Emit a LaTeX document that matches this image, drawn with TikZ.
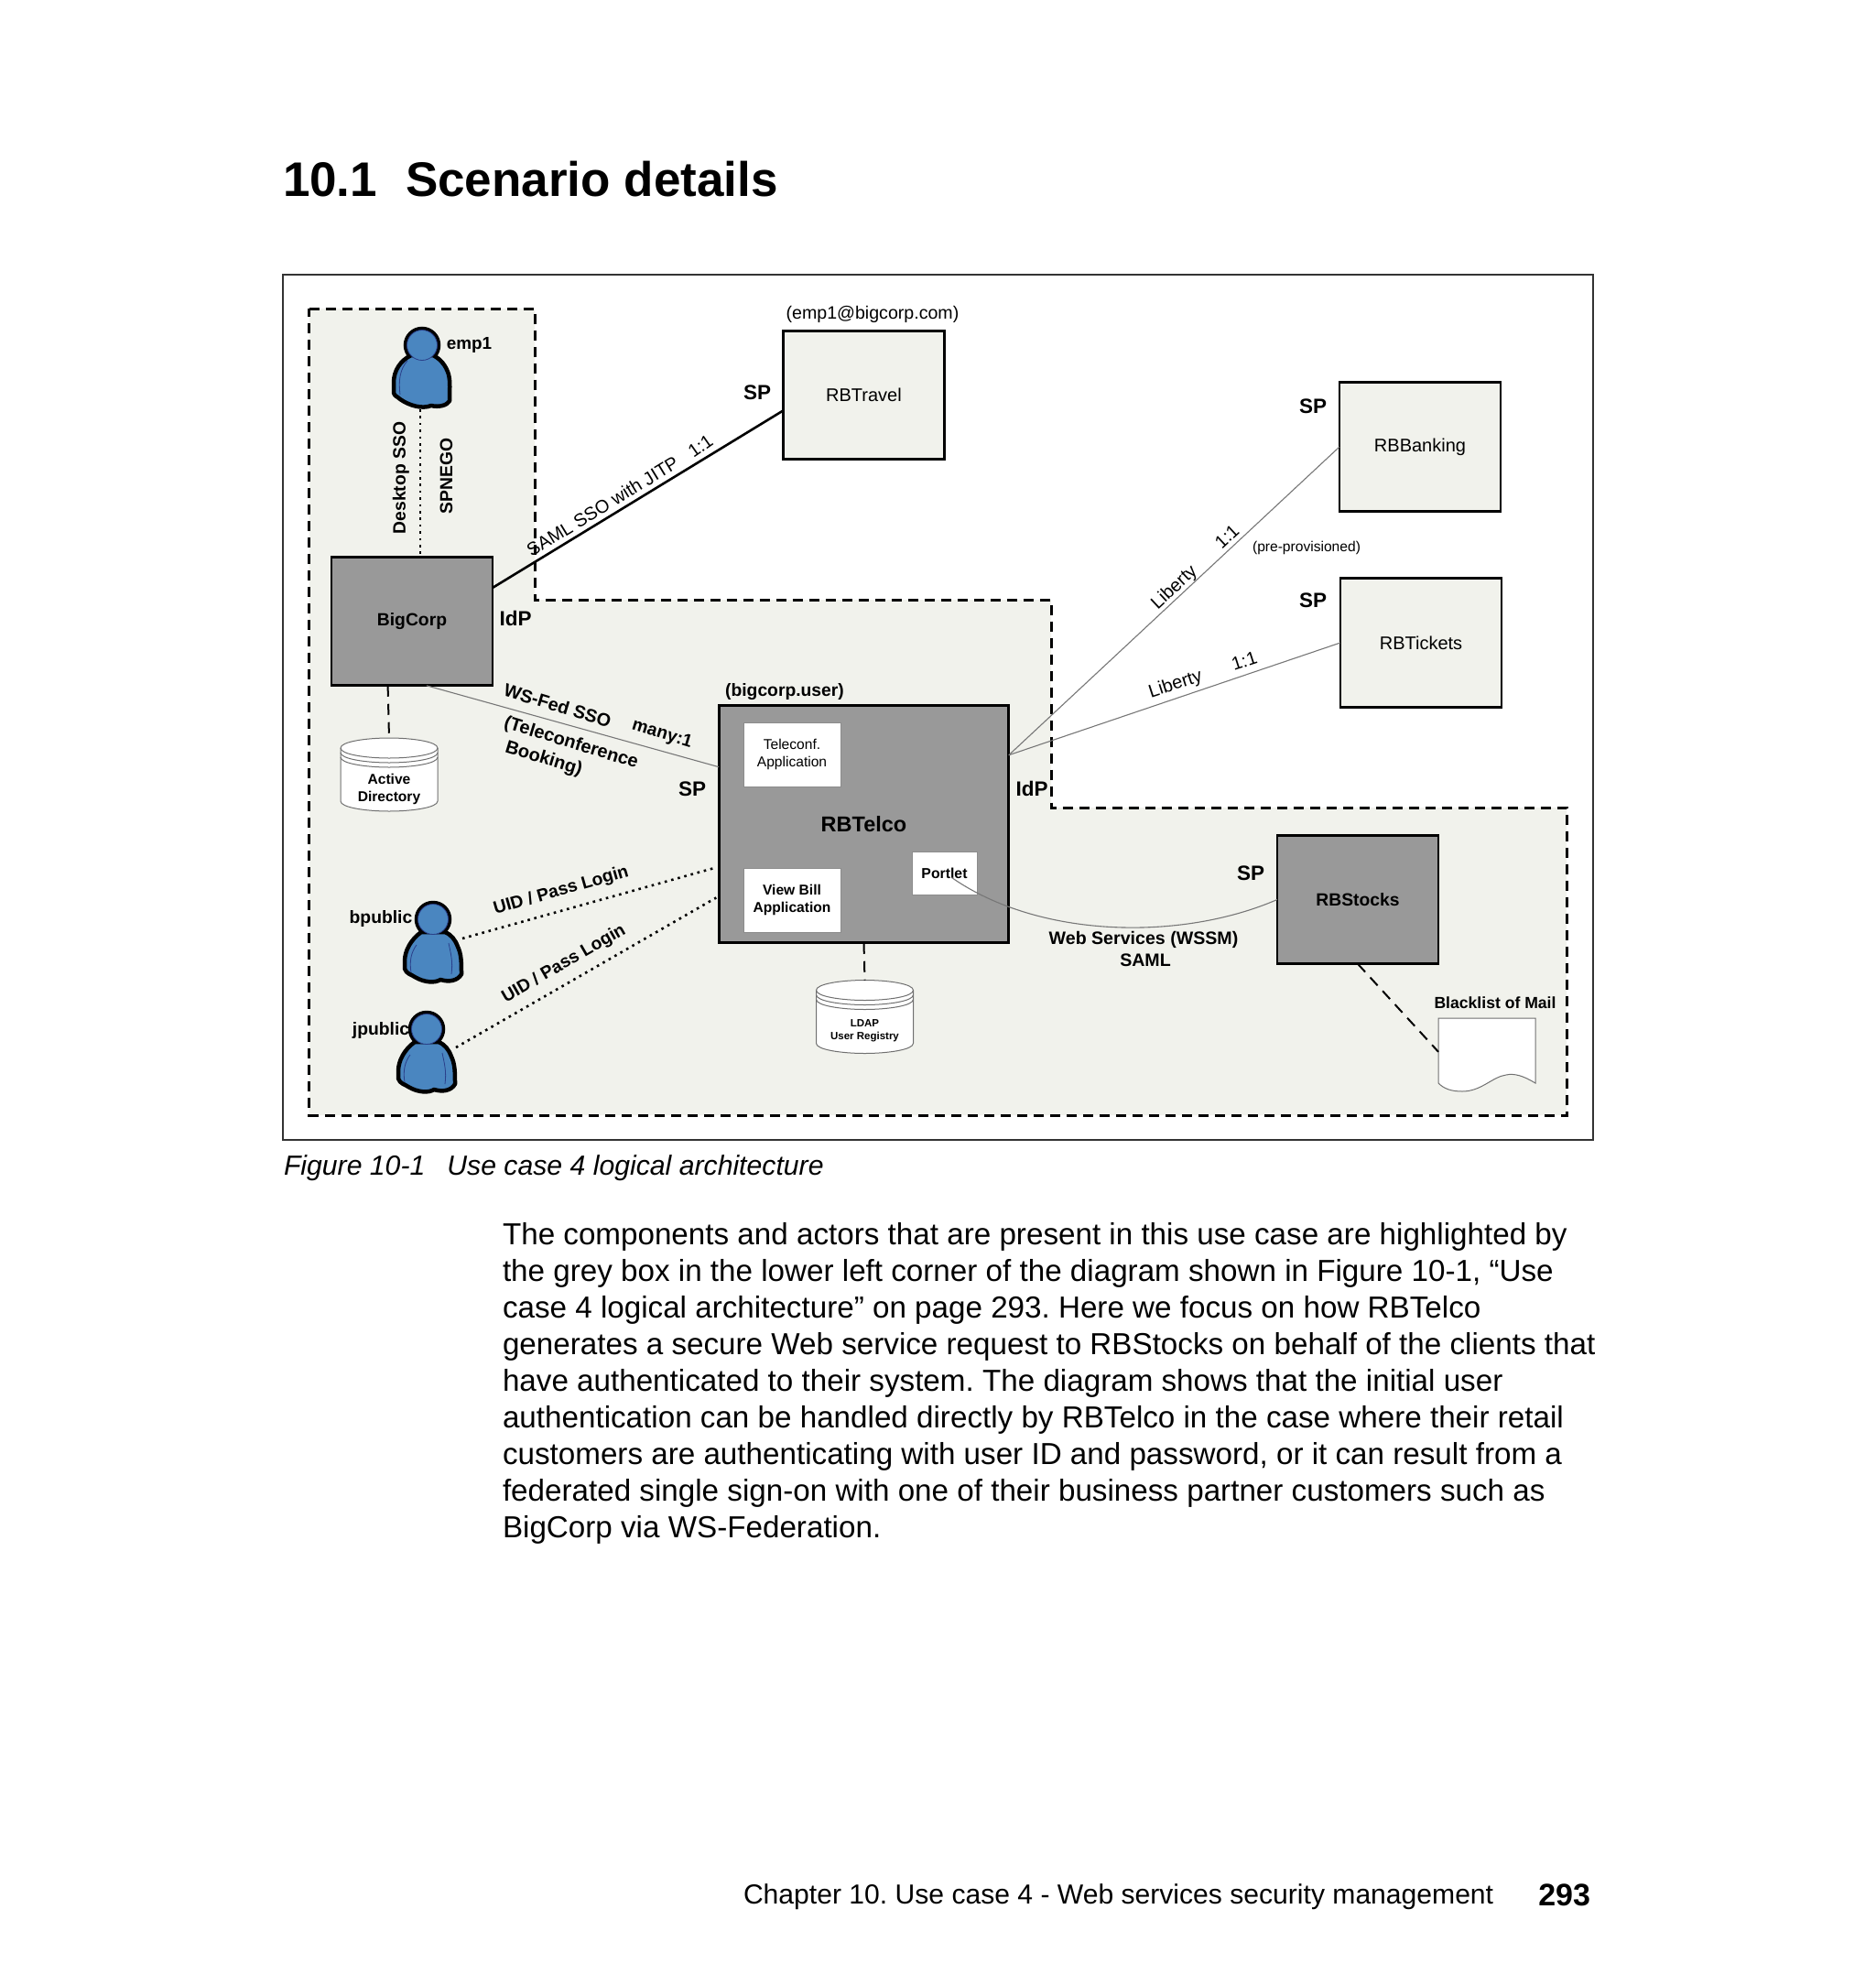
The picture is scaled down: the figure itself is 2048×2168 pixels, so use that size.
\documentclass[tikz,border=0pt]{standalone}
\usepackage{fontspec}
\setmainfont{Liberation Sans}
\usetikzlibrary{calc}
\frenchspacing
\definecolor{region}{HTML}{F1F2EC}
\definecolor{boxgrey}{HTML}{999999}
\definecolor{personblue}{HTML}{4A86C0}
\definecolor{personline}{HTML}{2A3F8A}
\definecolor{thinline}{HTML}{777777}
\definecolor{cylline}{HTML}{707070}
\tikzset{
  lab/.style={inner sep=0pt,outer sep=0pt,align=center,font=\bfseries\fontsize{19.3}{23}\selectfont},
  reglab/.style={inner sep=0pt,outer sep=0pt,align=center,font=\fontsize{20}{24}\selectfont},
  role/.style={inner sep=0pt,outer sep=0pt,font=\bfseries\fontsize{22.5}{26}\selectfont},
  minilab/.style={inner sep=0pt,outer sep=0pt,align=center,font=\bfseries\fontsize{15.6}{19.2}\selectfont},
  greybox/.style={draw=black,line width=2.6pt,fill=boxgrey,inner sep=0pt,outer sep=0pt,align=center},
  spbox/.style={draw=black,line width=2.6pt,fill=region,inner sep=0pt,outer sep=0pt,align=center},
  whitebox/.style={draw=black!45,line width=1pt,fill=white,inner sep=0pt,outer sep=0pt,align=center},
  ghost/.style={inner sep=0pt,outer sep=0pt},
  regionline/.style={draw=black,fill=region,line width=3pt,dash pattern=on 11pt off 7pt},
  thinlink/.style={draw=thinline,line width=1.1pt},
  dashlink/.style={draw=black,line width=2pt,dash pattern=on 12pt off 8pt},
  dotlink/.style={draw=black,line width=2.6pt,dash pattern=on 2.6pt off 4.8pt},
  pagetext/.style={inner sep=0pt,outer sep=0pt,anchor=west},
  personA/.pic={
    \draw[black,line width=4.5pt,fill=personblue] (0,0) circle (18);
    \draw[black,line width=4.5pt,fill=personblue,line join=round]
      (-12,11) .. controls (-24,17) and (-31,28) .. (-31,41)
      -- (-31,52) .. controls (-30,56) and (-27,56) .. (-24,59)
      .. controls (-14,66) and (0,70) .. (10,66)
      .. controls (18,68) and (27,66) .. (30,61)
      .. controls (30,50) and (31,40) .. (29,32)
      .. controls (26,22) and (20,15) .. (12,11) -- cycle;
    \draw[personline,line width=.8pt,fill=personblue] (0,0) circle (16.5);
    \draw[personline,line width=.8pt] (-16,17) .. controls (-24,26) and (-26,38) .. (-24,54);
  },
  personB/.pic={
    \draw[black,line width=4.5pt,fill=personblue] (0,0) circle (18);
    \draw[black,line width=4.5pt,fill=personblue,line join=round]
      (-13,14) .. controls (-24,22) and (-31,34) .. (-31,46)
      -- (-31,54) .. controls (-29,60) and (-24,60) .. (-20,63)
      .. controls (-10,69) and (2,70) .. (8,66)
      .. controls (18,69) and (27,67) .. (31,60)
      .. controls (31,48) and (31,38) .. (27,30)
      .. controls (24,22) and (20,17) .. (13,14) -- cycle;
    \draw[personline,line width=.8pt,fill=personblue] (0,0) circle (16.5);
    \draw[personline,line width=.8pt] (-18,28) .. controls (-24,36) and (-26,46) .. (-24,58);
    \draw[personline,line width=.8pt] (17,26) .. controls (19,36) and (22,46) .. (20,60);
  },
  cyl/.pic={
    \draw[draw=cylline,line width=1pt,fill=white]
      (-53,-29) .. controls (-53,-36) and (-25,-40) .. (0,-40)
      .. controls (25,-40) and (53,-36) .. (53,-29)
      -- (53,29) .. controls (53,36) and (25,40) .. (0,40)
      .. controls (-25,40) and (-53,36) .. (-53,29) -- cycle;
    \draw[draw=cylline,line width=1pt] (-53,-29) .. controls (-53,-22) and (-25,-18) .. (0,-18) .. controls (25,-18) and (53,-22) .. (53,-29);
    \draw[draw=cylline,line width=1pt] (-53,-24) .. controls (-53,-17) and (-25,-13) .. (0,-13) .. controls (25,-13) and (53,-17) .. (53,-24);
    \draw[draw=cylline,line width=1pt] (-53,-19) .. controls (-53,-12) and (-25,-8) .. (0,-8) .. controls (25,-8) and (53,-12) .. (53,-19);
  }
}
\begin{document}
\begin{tikzpicture}[x=1pt,y=-1pt]
\useasboundingbox (0,0) rectangle (2048,2168);
\fill[white] (0,0) rectangle (2048,2168);

% page text
\node[pagetext,font=\bfseries\fontsize{53}{62}\selectfont] (title) at (309,196) {10.1\hspace{31pt}Scenario details};
\node[pagetext,font=\itshape\fontsize{30.2}{36}\selectfont] (caption) at (310,1275.5) {Figure 10-1\hspace{24pt}Use case 4 logical architecture};
\node[inner sep=0pt,outer sep=0pt,anchor=north west,align=left,font=\fontsize{33.2}{40.1}\selectfont] (bodytext) at (549,1335) {The components and actors that are present in this use case are highlighted by\\
the grey box in the lower left corner of the diagram shown in Figure 10-1, “Use\\
case 4 logical architecture” on page 293. Here we focus on how RBTelco\\
generates a secure Web service request to RBStocks on behalf of the clients that\\
have authenticated to their system. The diagram shows that the initial user\\
authentication can be handled directly by RBTelco in the case where their retail\\
customers are authenticating with user ID and password, or it can result from a\\
federated single sign-on with one of their business partner customers such as\\
BigCorp via WS-Federation.};
\node[pagetext,font=\fontsize{30.1}{36}\selectfont] (footer) at (812,2072) {Chapter 10. Use case 4 - Web services security management};
\node[inner sep=0pt,outer sep=0pt,anchor=east,font=\bfseries\fontsize{34}{40}\selectfont] (pagenum) at (1737,2070) {293};

% frame and region
\draw[draw=black!80,line width=2pt] (308.5,300) rectangle (1739.5,1245);
\draw[regionline] (337.5,337) -- (584,337) -- (584,655) -- (1148,655) -- (1148,882) -- (1711,882) -- (1711,1218) -- (337.5,1218) -- cycle;

% nodes
\node[greybox,minimum width=176pt,minimum height=140.5pt,font=\bfseries\fontsize{19.3}{23}\selectfont] (bigcorp) at (450,678.5) {BigCorp};
\node[greybox,minimum width=316.5pt,minimum height=259.5pt,font=\bfseries\fontsize{23.5}{28}\selectfont] (rbtelco) at (943.5,900) {RBTelco};
\node[greybox,minimum width=176pt,minimum height=140.5pt,font=\bfseries\fontsize{19.3}{23}\selectfont] (rbstocks) at (1483,982.5) {RBStocks};
\node[spbox,minimum width=176pt,minimum height=140.5pt,font=\fontsize{20}{24}\selectfont] (rbtravel) at (943.5,431.5) {RBTravel};
\node[spbox,minimum width=176pt,minimum height=140.5pt,font=\fontsize{20}{24}\selectfont] (rbbanking) at (1551,488) {RBBanking};
\node[spbox,minimum width=176pt,minimum height=140.5pt,font=\fontsize{20}{24}\selectfont] (rbtickets) at (1552,702) {RBTickets};
\node[whitebox,minimum width=106pt,minimum height=70pt,font=\fontsize{15.6}{19.2}\selectfont] (teleconf) at (865,824) {Teleconf.\\Application};
\node[whitebox,minimum width=106pt,minimum height=70pt,font=\bfseries\fontsize{15.6}{19.2}\selectfont] (viewbill) at (865,983) {View Bill\\Application};
\node[whitebox,minimum width=71pt,minimum height=47pt,font=\bfseries\fontsize{15.8}{19}\selectfont] (portlet) at (1031.5,953.5) {Portlet};

% cylinders
\pic at (425,846) {cyl};
\node[ghost,minimum width=106pt,minimum height=80pt] (ad) at (425,846) {};
\node[minilab] (adtext) at (425,862) {Active\\Directory};
\pic at (944.5,1110.5) {cyl};
\node[ghost,minimum width=106pt,minimum height=80pt] (ldap) at (944.5,1110.5) {};
\node[inner sep=0pt,outer sep=0pt,align=center,font=\bfseries\fontsize{11.5}{14.5}\selectfont] (ldaptext) at (944.5,1125.5) {LDAP\\User Registry};

% document
\draw[draw=cylline,line width=1pt,fill=white] (1571,1112) -- (1677,1112) -- (1677,1183)
  .. controls (1664,1175) and (1654,1172) .. (1645,1174)
  .. controls (1630,1176) and (1618,1192) .. (1597,1192)
  .. controls (1585,1192) and (1577,1189) .. (1571,1183) -- cycle;
\node[ghost,minimum width=106pt,minimum height=80pt] (blacklist) at (1624,1152) {};

% persons
\pic at (461,377) {personA};
\node[ghost,minimum width=64pt,minimum height=88pt] (emp) at (461,403) {};
\pic at (473,1004) {personB};
\node[ghost,minimum width=64pt,minimum height=88pt] (bpub) at (473,1030) {};
\pic at (466,1124) {personB};
\node[ghost,minimum width=64pt,minimum height=88pt] (jpub) at (466,1150) {};

% connectors
\draw[dotlink] ($(emp.south)+(-2,0)$) -- ($(bigcorp.north)+(9,0)$ |- bigcorp.north);
\draw[dashlink] ($(bigcorp.south west)!0.35!(bigcorp.south east)$) -- (ad.north);
\draw[dashlink] (rbtelco.south) -- (ldap.north);
\draw[black,line width=2.6pt] ($(bigcorp.north east)!0.24!(bigcorp.south east)$) -- ($(rbtravel.north west)!0.62!(rbtravel.south west)$);
\draw[thinlink] ($(bigcorp.south west)!0.59!(bigcorp.south east)$) -- ($(rbtelco.north west)!0.26!(rbtelco.south west)$);
\draw[thinlink] ($(rbtelco.north east)!0.21!(rbtelco.south east)$) -- (rbbanking.west);
\draw[thinlink] ($(rbtelco.north east)!0.21!(rbtelco.south east)$) -- (rbtickets.west);
\draw[dotlink] ($(bpub.east)+(0,-5)$) -- ($(rbtelco.north west)!0.685!(rbtelco.south west)+(-5,0)$);
\draw[dotlink] ($(jpub.east)+(0,-6)$) -- ($(rbtelco.north west)!0.81!(rbtelco.south west)+(-3,0)$);
\draw[thinlink] ($(portlet.center)+(8,5)$) .. controls (1135,1025) and (1290,1028) .. ($(rbstocks.north west)!0.5!(rbstocks.south west)$);
\draw[dashlink] (rbstocks.south) -- ($(blacklist.north west)!0.46!(blacklist.south west)$);

% labels
\node[lab,font=\bfseries\fontsize{18.9}{22}\selectfont] (lemp) at (512.5,376.5) {emp1};
\node[lab,rotate=90] (ldesk) at (438,522) {Desktop SSO};
\node[lab,rotate=90] (lspnego) at (487.5,520) {SPNEGO};
\node[role] (lidp1) at (563,675.5) {IdP};
\node[reglab,rotate=31.4] (lsamltext) at (658,553) {SAML SSO with JITP};
\node[reglab,rotate=35] (lsaml11) at (765,487) {1:1};
\node[reglab,font=\fontsize{19.6}{24}\selectfont] (lemail) at (953,343) {(emp1@bigcorp.com)};
\node[role] (lsp1) at (827,429) {SP};
\node[role] (lsp2) at (1434,444) {SP};
\node[role] (lsp3) at (1434,656) {SP};
\node[reglab,font=\fontsize{15.6}{19}\selectfont] (lpre) at (1427,598) {(pre-provisioned)};
\node[reglab,rotate=43] (lliberty1) at (1283,642) {Liberty};
\node[reglab,rotate=43] (l11a) at (1340,586) {1:1};
\node[reglab,rotate=18] (lliberty2) at (1284,748) {Liberty};
\node[reglab,rotate=18] (l11b) at (1359,722) {1:1};
\node[lab,rotate=-17,font=\bfseries\fontsize{19.8}{23}\selectfont] (lwsfed) at (609,770.5) {WS-Fed SSO};
\node[lab,rotate=-17] (lmany) at (723,802) {many:1};
\node[lab,rotate=-17,align=left,font=\bfseries\fontsize{20}{25}\selectfont] (ltele) at (620,824) {(Teleconference\\\hspace{9pt}Booking)};
\node[role] (lsp4) at (756,862) {SP};
\node[role] (lidp2) at (1127,861) {IdP};
\node[lab] (lbcuser) at (857,755.5) {(bigcorp.user)};
\node[lab] (lbpub) at (416,1003.5) {bpublic};
\node[lab] (ljpub) at (416,1125) {jpublic};
\node[lab,rotate=16] (luid1) at (613,973) {UID / Pass Login};
\node[lab,rotate=30] (luid2) at (616,1053) {UID / Pass Login};
\node[role] (lsp5) at (1366,953.5) {SP};
\node[lab,font=\bfseries\fontsize{19.6}{23.2}\selectfont] (lws) at (1249,1036.5) {Web Services (WSSM)\\\hspace{4pt}SAML};
\node[lab,font=\bfseries\fontsize{17.6}{22}\selectfont] (lblack) at (1633,1095) {Blacklist of Mail};
\end{tikzpicture}
\end{document}
